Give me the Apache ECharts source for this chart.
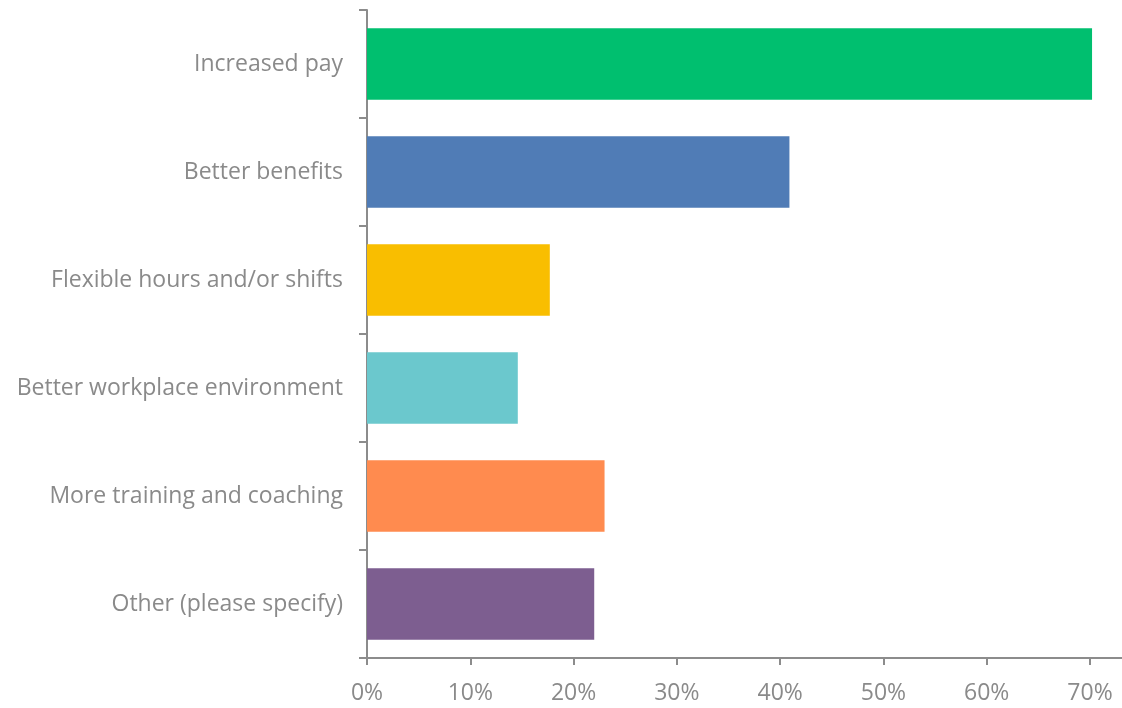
<!DOCTYPE html>
<html>
<head>
  <meta charset="utf-8" />
  <script src="https://cdn.jsdelivr.net/npm/echarts@6/dist/echarts.min.js"></script>
  <style>
    html, body { margin: 0; padding: 0; background: #fff; }
    #main { width: 1122px; height: 708px; }
  </style>
</head>
<body>
<div id="main"></div>
<script>
  let categories = [
    'Increased pay',
    'Better benefits',
    'Flexible hours and/or shifts',
    'Better workplace environment',
    'More training and coaching',
    'Other (please specify)'
  ]
  let values = [0.702, 0.409, 0.177, 0.146, 0.230, 0.220]
  let barColors = ['#00BF6F', '#507CB6', '#F9BE00', '#6BC8CD', '#FF8B4F', '#7D5E90']
  let tickValues = [0, 0.1, 0.2, 0.3, 0.4, 0.5, 0.6, 0.7]

  let axisColor = '#8c8c8c'
  let textColor = '#8a8a8a'
  let fontName = 'Open Sans'

  let chart = echarts.init(document.getElementById('main'))

  let option = {
    animation: false,
    grid: {
      left: 367,
      right: 0,
      top: 10,
      bottom: 50,
      containLabel: false
    },
    xAxis: {
      type: 'value',
      min: 0,
      max: 0.731,
      splitLine: { show: false },
      axisLine: { show: true, lineStyle: { color: axisColor, width: 2 } },
      axisTick: {
        show: true,
        length: 7,
        customValues: tickValues,
        lineStyle: { color: axisColor, width: 2 }
      },
      axisLabel: {
        customValues: tickValues,
        margin: 24,
        color: textColor,
        fontFamily: fontName,
        fontSize: 23,
        formatter: v => Math.round(v * 100) + '%'
      }
    },
    yAxis: {
      type: 'category',
      inverse: true,
      data: categories,
      axisLine: { show: true, lineStyle: { color: axisColor, width: 2 } },
      axisTick: { show: true, length: 8, lineStyle: { color: axisColor, width: 2 } },
      axisLabel: {
        margin: 24,
        color: textColor,
        fontFamily: fontName,
        fontSize: 23,
        padding: [4, 0, 0, 0]
      }
    },
    series: [
      {
        type: 'bar',
        barWidth: '66%',
        data: values.map((v, i) => ({ value: v, itemStyle: { color: barColors[i] } }))
      }
    ]
  }

  chart.setOption(option)
</script>
</body>
</html>
